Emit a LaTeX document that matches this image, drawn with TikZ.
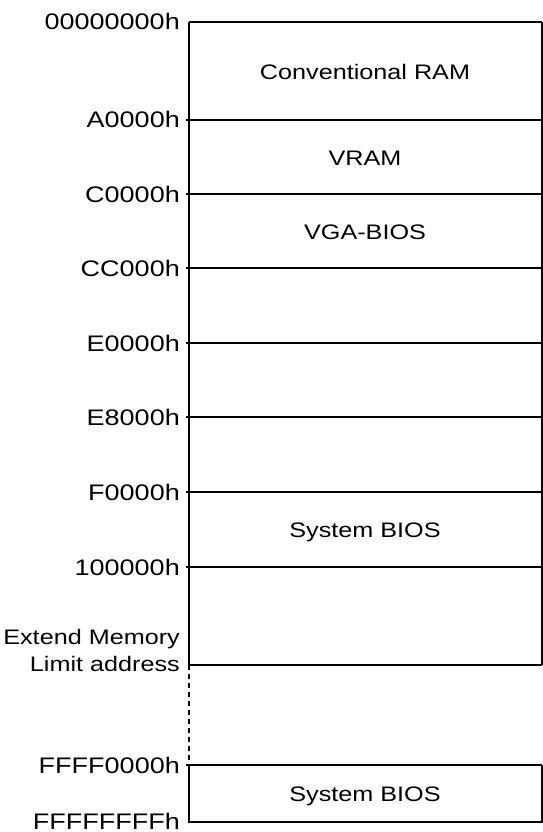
\documentclass[tikz,border=0pt]{standalone}
\usepackage{fontspec}
\setmainfont{Liberation Sans}[FakeStretch=1.2]
\newfontfamily\addrfont{Liberation Sans}[FakeStretch=1.2]
\begin{document}
\begin{tikzpicture}[x=1pt,y=-1pt,
  wall/.style={line width=1.6pt},
  gapline/.style={line width=1.1pt,dash pattern=on 5pt off 4pt},
  region/.style={inner sep=0pt,text height=15pt,text depth=0pt,font=\fontsize{21}{27}\selectfont},
  addr/.style={anchor=east,inner sep=0pt,text height=16pt,text depth=0pt,font=\addrfont\fontsize{22.5}{27}\selectfont},
  addrtwo/.style={anchor=east,inner sep=0pt,align=right,text height=15pt,text depth=0pt,font=\fontsize{21}{27}\selectfont}]
\useasboundingbox (0,0) rectangle (543,832);
% outline of the mapped space
\draw[wall] (189,22) -- (542,22);
\draw[wall] (189,22) -- (189,665) -- (542,665);
\draw[wall] (542,22) -- (542,665);
\foreach \yy in {120,194,268,343,417,492,567}{
  \draw[wall] (186,\yy) -- (542,\yy);
}
\draw[gapline] (189,665) -- (189,765);
\draw[wall] (186,765) -- (542,765);
\draw[wall] (189,765) -- (189,822) -- (542,822) -- (542,765);
% region texts
\node[region] (conv) at (365,72) {Conventional RAM};
\node[region] (vram) at (365,157.5) {VRAM};
\node[region] (vga) at (365,231.5) {VGA-BIOS};
\node[region] (sbios) at (365,530) {System BIOS};
\node[region] (sbios2) at (365,794) {System BIOS};
% address labels
\node[addr] (a0) at (180,22) {00000000h};
\node[addr] (a1) at (180,120) {A0000h};
\node[addr] (a2) at (180,194) {C0000h};
\node[addr] (a3) at (180,268) {CC000h};
\node[addr] (a4) at (180,343) {E0000h};
\node[addr] (a5) at (180,417) {E8000h};
\node[addr] (a6) at (180,492) {F0000h};
\node[addr] (a7) at (180,567) {100000h};
\node[addrtwo] (a8) at (180,663.5) {Extend Memory\\Limit address};
\node[addr] (a9) at (180,765) {FFFF0000h};
\node[addr] (a10) at (180,821) {FFFFFFFFh};
\end{tikzpicture}
\end{document}
